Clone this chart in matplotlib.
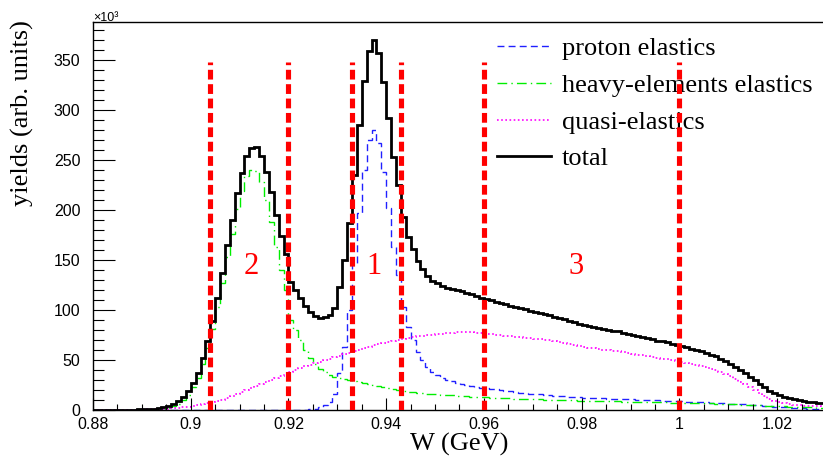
import matplotlib
matplotlib.use('Agg')
import matplotlib.pyplot as plt
from matplotlib.ticker import MultipleLocator, FuncFormatter
import numpy as np

# histogram binning: 0.88 - 1.03 GeV, 1 MeV bins; yields in units of 1e3
edges = np.linspace(0.88, 1.03, 151)

proton = [0]*40 + [
    0, 0, 0.2, 0.4, 0.7, 1.2, 3, 5, 8, 16,
    37, 63, 100, 147, 197, 240, 270, 280, 267, 238,
    202, 163, 135, 103, 83, 70, 58, 50, 43, 38,
    35, 32, 30, 29, 27.5, 26.5, 25.5, 24.5, 23.5, 22.5,
    22, 21.3, 20.6, 20, 19.3, 18.7, 18, 17.5, 17, 16.5,
    16, 15.6, 15.2, 14.8, 14.4, 14, 13.7, 13.4, 13.1, 12.8,
    12.5, 12.3, 12.1, 11.9, 11.7, 11.5, 11.3, 11.1, 11, 10.8,
    10.6, 10.4, 10.2, 10, 9.8, 9.6, 9.4, 9.2, 9, 8.8,
    8.6, 8.4, 8.2, 8, 7.8, 7.6, 7.4, 7.2, 7, 6.8,
    6.5, 6.2, 5.9, 5.6, 5.3, 5, 4.6, 4.2, 3.8, 3.4,
    3, 2.7, 2.4, 2.1, 1.9, 1.7, 1.5, 1.3, 1.2, 1.1]

heavy = [
    0, 0, 0, 0, 0, 0, 0, 0.1, 0.1, 0.2,
    0.3, 0.4, 0.6, 0.9, 1.5, 2.5, 4, 6.5, 10, 15.5,
    23, 32, 46, 62, 81, 103, 127, 153, 176, 201,
    219, 234, 240, 239, 228, 210, 188, 163, 140, 120,
    90, 80, 70, 60, 52, 46, 41, 38, 35.5, 33.5,
    32, 31, 30, 29, 28, 27, 26, 25, 24, 23,
    22, 21, 20, 19, 18.3, 17.7, 17.2, 16.8, 16.4, 16,
    15.6, 15.3, 15, 14.7, 14.4, 14.1, 13.8, 13.5, 13.2, 12.9,
    12.7, 12.5, 12.3, 12.1, 11.9, 11.7, 11.5, 11.3, 11.1, 10.9,
    10.7, 10.6, 10.4, 10.3, 10.1, 10, 9.9, 9.7, 9.6, 9.4,
    9.3, 9.2, 9.1, 9, 8.9, 8.8, 8.7, 8.6, 8.5, 8.4,
    8.3, 8.2, 8.1, 8, 7.9, 7.8, 7.7, 7.6, 7.5, 7.4,
    7.3, 7.2, 7.1, 7, 6.9, 6.8, 6.6, 6.4, 6.2, 6,
    5.8, 5.6, 5.4, 5.2, 5, 4.8, 4.6, 4.4, 4.2, 4,
    3.8, 3.6, 3.4, 3.2, 3, 2.8, 2.7, 2.6, 2.5, 2.4]

quasi = [
    0.1, 0.1, 0.1, 0.2, 0.2, 0.2, 0.3, 0.3, 0.4, 0.5,
    0.6, 0.7, 0.9, 1.0, 1.2, 1.5, 1.8, 2.2, 2.7, 3.3,
    4.0, 4.8, 5.7, 6.7, 7.8, 9.0, 10.5, 12, 14, 16,
    18, 20, 22, 24, 26, 28, 30, 32, 34, 36,
    38, 40, 42, 44, 45.5, 47, 48.5, 50, 51.5, 53,
    54.5, 56, 57.5, 59, 60.5, 62, 63.5, 65, 66, 67,
    68, 69, 70, 71, 72, 73, 74, 74.5, 75, 75.5,
    76, 76.5, 77, 77.5, 78, 78, 78, 78, 77.5, 77,
    76.5, 76, 75.5, 75, 74.5, 74, 73.5, 73, 72.5, 72,
    71.5, 71, 70.5, 70, 69, 68, 67, 66, 65, 64,
    63, 62.5, 62, 61, 60.5, 60, 59.5, 59, 58, 57,
    56, 55.5, 55, 54, 53, 52, 51.5, 51, 50, 49,
    48, 47, 46, 45, 44, 43, 41.5, 40, 38, 36,
    34, 31, 28.5, 26, 23, 20, 17, 14, 11.5, 9.5,
    8, 6.8, 6, 5.3, 4.8, 4.4, 4.1, 3.8, 3.6, 3.4]

total = np.array(proton) + np.array(heavy) + np.array(quasi)

cuts = [0.904, 0.920, 0.933, 0.943, 0.960, 1.000]
cut_top = 348
region_names = ['1', '2', '3']
region_w = [0.9375, 0.9124, 0.9789]
region_y = 143

serif = ['Liberation Serif', 'DejaVu Serif']
sans = ['Liberation Sans', 'DejaVu Sans']

fig = plt.figure(figsize=(8.23, 4.58), dpi=100)
ax = fig.add_axes([93/823, 48/458, 733/823, 388/458])

ax.stairs(proton, edges, baseline=None, color='#2020ff', lw=1.0,
          linestyle=(0, (5, 3)), label='proton elastics')
ax.stairs(heavy, edges, baseline=None, color='#00ee00', lw=1.0,
          linestyle=(0, (7, 3, 1, 3)), label='heavy-elements elastics')
ax.stairs(quasi, edges, baseline=None, color='#ff00ff', lw=1.2,
          linestyle=(0, (1, 1.5)), label='quasi-elastics')
ax.stairs(total, edges, baseline=None, color='black', lw=2.0, label='total')

for c in cuts:
    ax.plot([c, c], [0, cut_top], color='red', lw=3.7,
            linestyle=(0, (1.9, 0.9)), zorder=6)

for name, w in zip(region_names, region_w):
    ax.text(w, region_y, name, color='red', fontsize=22, family=serif,
            ha='center', va='center')

ax.set_xlim(0.88, 1.03)
ax.set_ylim(0, 388)
ax.xaxis.set_major_locator(MultipleLocator(0.02))
ax.xaxis.set_minor_locator(MultipleLocator(0.005))
ax.yaxis.set_major_locator(MultipleLocator(50))
ax.yaxis.set_minor_locator(MultipleLocator(10))
ax.xaxis.set_major_formatter(FuncFormatter(lambda v, p: f'{v:g}'))
ax.yaxis.set_major_formatter(FuncFormatter(lambda v, p: f'{v:g}'))
ax.tick_params(axis='y', which='major', direction='in', length=16, width=0.8, pad=9)
ax.tick_params(axis='y', which='minor', direction='in', length=8, width=0.8)
ax.tick_params(axis='x', which='major', direction='in', length=8.5, width=0.8, pad=5)
ax.tick_params(axis='x', which='minor', direction='in', length=4.5, width=0.8)
for lab in ax.get_xticklabels() + ax.get_yticklabels():
    lab.set_family(sans)
    lab.set_fontsize(11.5)
for s in ax.spines.values():
    s.set_linewidth(1.0)

ax.set_xlabel('W (GeV)', family=serif, fontsize=19, labelpad=1)
ax.set_ylabel('yields (arb. units)', family=serif, fontsize=19, loc='top')
ax.yaxis.set_label_coords(-0.08, 1.005)

fig.text(93/823, 1 - 21/458, '×10³', family=sans, fontsize=9, ha='left', va='baseline')

leg = ax.legend(loc='upper left', bbox_to_anchor=(497/823, 1 - 37/458),
                bbox_transform=fig.transFigure, frameon=False,
                prop={'family': serif, 'size': 19}, handlelength=2.05,
                handletextpad=0.42, labelspacing=0.5, borderpad=0, borderaxespad=0)
leg.set_zorder(5)

fig.savefig('out.png', dpi=100)
